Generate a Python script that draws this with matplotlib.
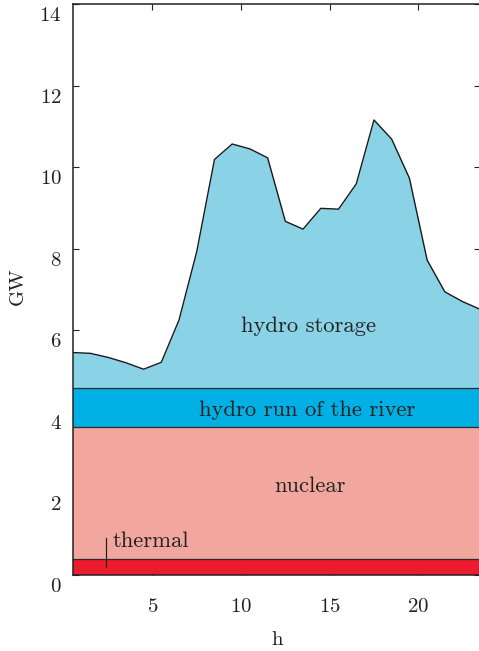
import numpy as np
import matplotlib
matplotlib.use('Agg')
import matplotlib.pyplot as plt
import matplotlib.transforms as mtransforms

plt.rcParams['font.family'] = ['cmr10', 'DejaVu Serif']
plt.rcParams['axes.formatter.use_mathtext'] = True

# hourly dispatch, GW (hour midpoints)
hours = np.arange(24) + 0.5
thermal = [0.38] * 24
nuclear = [3.24] * 24
river = [0.95] * 24
total = [5.45, 5.43, 5.33, 5.20, 5.04, 5.21, 6.25, 7.93, 10.19, 10.57, 10.45, 10.23,
         8.67, 8.48, 8.99, 8.97, 9.59, 11.16, 10.69, 9.73, 7.72, 6.94, 6.70, 6.51]

c_thermal = "#EC1C2E"
c_nuclear = "#F2A79E"
c_river = "#00AFE4"
c_storage = "#8AD2E6"

W, H = 479, 651
fig = plt.figure(figsize=(W / 100, H / 100), dpi=100)
ax_l, ax_r, ax_b, ax_t = 72.7, 480.3, 574.5, 4.3
ax = fig.add_axes([ax_l / W, 1 - ax_b / H, (ax_r - ax_l) / W, (ax_b - ax_t) / H])

b0 = np.zeros(24)
b1 = b0 + np.array(thermal)
b2 = b1 + np.array(nuclear)
b3 = b2 + np.array(river)
top = np.array(total)

edge = "#2b2b2b"
ax.fill_between(hours, b0, b1, color=c_thermal, lw=0, zorder=1)
ax.fill_between(hours, b1, b2, color=c_nuclear, lw=0, zorder=1)
ax.fill_between(hours, b2, b3, color=c_river, lw=0, zorder=1)
ax.fill_between(hours, b3, top, color=c_storage, lw=0, zorder=1)
for b in (b1, b2, b3):
    ax.plot(hours, b, color=edge, lw=0.9, zorder=2)
ax.plot(hours, top, color="#1a1a1a", lw=1.0, zorder=2)

ax.set_xlim(0.5, 23.5)
ax.set_ylim(0, 14)
ax.set_xticks([5, 10, 15, 20])
ax.set_yticks([0, 2, 4, 6, 8, 10, 12, 14])
ax.set_axisbelow(True)
ax.tick_params(direction='in', length=4, width=0.8, labelsize=15, colors="#222222",
               top=True, right=True)
ax.tick_params(axis='x', pad=17)
ax.tick_params(axis='y', pad=8)
for s in ax.spines.values():
    s.set_linewidth(1.1)
    s.set_color("#222222")

# y labels sit a bit below their ticks
off = mtransforms.ScaledTranslation(0, -10 / 100, fig.dpi_scale_trans)
for lab in ax.yaxis.get_majorticklabels():
    lab.set_transform(lab.get_transform() + off)

fs = 16.3
txt = dict(fontsize=fs, color="#222222", ha='center', va='center')
ax.text(13.78, 6.10, "hydro storage", **txt)
ax.text(13.72, 4.04, "hydro run of the river", **txt)
ax.text(13.89, 2.17, "nuclear", **txt)
ax.text(2.77, 0.82, "thermal", fontsize=fs, color="#222222", ha='left', va='center')
ax.plot([2.38, 2.38], [0.18, 0.90], color="#222222", lw=0.9, zorder=3)

ax.set_xlabel("h", fontsize=15, color="#222222")
ax.set_ylabel("GW", fontsize=15, color="#222222")
ax.xaxis.set_label_coords(0.501, -0.115)
ax.yaxis.set_label_coords(-0.134, 0.505)
ax.xaxis.label.set_va('center')
ax.yaxis.label.set_va('center')

fig.savefig("out.png", dpi=100)
